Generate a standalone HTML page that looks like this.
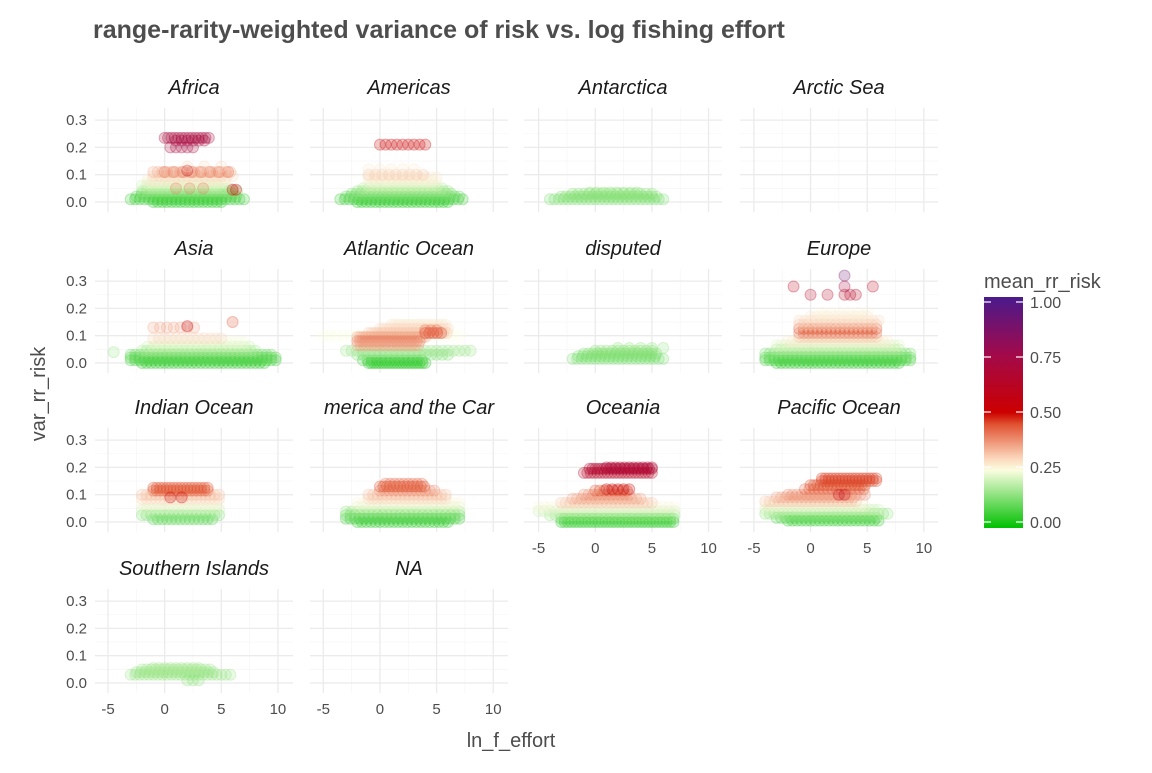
<!DOCTYPE html>
<html><head><meta charset="utf-8"><style>
body{margin:0;background:#fff;font-family:"Liberation Sans",sans-serif}
svg text{font-family:"Liberation Sans",sans-serif}
</style></head><body>
<svg id="c" width="1152" height="768" xmlns="http://www.w3.org/2000/svg">
<defs><linearGradient id="cb" x1="0" y1="1" x2="0" y2="0">
<stop offset="0" stop-color="#00c000"/><stop offset="0.25" stop-color="#fbfde0"/><stop offset="0.3" stop-color="#fcd8bd"/><stop offset="0.45" stop-color="#e0502f"/><stop offset="0.5" stop-color="#cc0000"/><stop offset="0.75" stop-color="#a20a4a"/><stop offset="1" stop-color="#4a1a8c"/></linearGradient></defs>
<text x="93" y="38" font-size="25" font-weight="bold" fill="#4d4d4d">range-rarity-weighted variance of risk vs. log fishing effort</text>
<text x="511" y="747" font-size="20" fill="#4d4d4d" text-anchor="middle">ln_f_effort</text>
<text transform="translate(45,394) rotate(-90)" font-size="20" fill="#4d4d4d" text-anchor="middle">var_rr_risk</text>
<g id="legend">
<text x="984" y="288" font-size="20" fill="#4d4d4d">mean_rr_risk</text>
<rect x="984" y="297" width="39" height="231" fill="url(#cb)"/>
</g>
<g id="panels"></g>
</svg>
<script>
const panelNames=["Africa","Americas","Antarctica","Arctic Sea","Asia","Atlantic Ocean","disputed","Europe","Indian Ocean","merica and the Car","Oceania","Pacific Ocean","Southern Islands","NA"];
const xTicks=[-5,0,5,10];
const yTicks=[0,0.1,0.2,0.3];
const legendTicks=[0,0.25,0.5,0.75,1];
// strips: [var_rr_risk, mean_rr_risk, xStart, xEnd, xStep]
const africa=[[0.0,0.03,-1,5,0.4],[0.01,0.05,-3,7,0.4],[0.02,0.08,-2.5,6.5,0.4],[0.03,0.1,-2,6,0.4],[0.04,0.15,-2,6.5,0.4],[0.05,0.18,-1.5,6,0.4],[0.06,0.2,-2,5,0.4],[0.07,0.24,-1.5,5.5,0.4],[0.08,0.28,-1.5,5.5,0.4],[0.095,0.3,-1,6,0.5],[0.11,0.35,-1,6,0.4],[0.11,0.42,0,6,0.8],[0.115,0.55,2,2,1],[0.05,0.4,1,3.5,1.2],[0.045,0.5,6,6.3,0.3],[0.235,0.7,0,4,0.3],[0.225,0.72,1,3.5,0.5],[0.2,0.72,0.5,2.5,0.5],[0.13,0.3,2,6,1.5]];
const americas=[[0.0,0.03,-2,6,0.4],[0.01,0.05,-3.5,7.5,0.4],[0.02,0.1,-3,7,0.4],[0.03,0.12,-2.5,6.5,0.4],[0.04,0.15,-2,6,0.4],[0.05,0.18,-1.5,5.5,0.5],[0.06,0.22,-1,5,0.5],[0.075,0.26,-1,5,0.5],[0.09,0.28,-1,5,0.5],[0.1,0.32,-1,4,0.6],[0.12,0.28,-1,3,1],[0.21,0.5,0,4,0.5]];
const antarctica=[[0.01,0.12,-4,6,0.4],[0.02,0.13,-3,5.5,0.4],[0.03,0.13,-2,5,0.5],[0.035,0.14,-0.5,4,0.6]];
const arctic=[];
const asia=[[0.0,0.04,-2,9,0.4],[0.01,0.06,-3,10,0.4],[0.02,0.08,-3,10,0.4],[0.03,0.1,-3,9.5,0.4],[0.045,0.16,-2,8,0.4],[0.06,0.2,-1.5,7.5,0.5],[0.075,0.24,-1,7,0.5],[0.09,0.3,-1,5,0.5],[0.13,0.36,-1,3,0.6],[0.135,0.55,2,2,1],[0.15,0.45,6,6,1],[0.04,0.15,-4.5,-4.5,1]];
const atlantic=[[0.0,0.03,-1,4,0.25],[0.01,0.06,-1.5,4,0.4],[0.03,0.12,-2,6,0.5],[0.045,0.15,-3,8,0.5],[0.1,0.25,-5,7,0.6],[0.14,0.28,1,6,0.3],[0.125,0.3,0,6,0.3],[0.11,0.32,-1,6,0.3],[0.095,0.36,-2,4,0.25],[0.08,0.4,-2,3.5,0.25],[0.065,0.36,-2,3.5,0.3],[0.11,0.46,4,5.5,0.35],[0.12,0.42,4,5,0.5]];
const disputed=[[0.015,0.12,-2,6,0.4],[0.025,0.12,-1.5,5.5,0.4],[0.035,0.13,-1,5.5,0.4],[0.045,0.13,0,5,0.5],[0.055,0.14,2,6,1]];
const europe=[[0.0,0.04,-3,8,0.4],[0.01,0.06,-4,9,0.4],[0.02,0.08,-4,9,0.4],[0.035,0.12,-4,9,0.4],[0.05,0.17,-3,8,0.4],[0.065,0.22,-3,8,0.4],[0.08,0.27,-2,7,0.4],[0.095,0.32,-1,6,0.4],[0.11,0.4,-1,6,0.4],[0.125,0.45,-1,6,0.4],[0.14,0.32,-1,6,0.4],[0.155,0.3,-1,6,0.5],[0.17,0.28,0,5,0.5],[0.185,0.26,1,5,0.8],[0.28,0.6,-1.5,5.5,7],[0.25,0.62,0,1.5,1.5],[0.25,0.62,3,4,0.5],[0.32,0.9,3,3,1],[0.28,0.7,3,3,1]];
const indian=[[0.01,0.08,-1,4.5,0.4],[0.025,0.12,-2,5,0.4],[0.045,0.2,-2,5,0.4],[0.065,0.26,-2,5,0.4],[0.085,0.3,-2,5,0.4],[0.1,0.33,-2,5,0.4],[0.115,0.42,-1,4,0.3],[0.125,0.45,-1,4,0.3],[0.09,0.5,0.5,1.5,1]];
const centralAm=[[0.0,0.04,-2,6,0.4],[0.012,0.06,-3,7,0.4],[0.025,0.1,-3,7,0.4],[0.038,0.14,-3,7,0.5],[0.055,0.22,-2,7,0.5],[0.07,0.26,-2,7,0.5],[0.085,0.3,-1,6,0.4],[0.1,0.33,-1,6,0.4],[0.115,0.38,0,5,0.4],[0.13,0.45,0,4,0.3],[0.14,0.42,0.5,4,0.4]];
const oceania=[[0.0,0.04,-3,7,0.3],[0.012,0.08,-3,7,0.3],[0.025,0.15,-4,7,0.5],[0.04,0.2,-5,7,0.5],[0.055,0.26,-5,7,0.5],[0.07,0.32,-3,5,0.4],[0.085,0.36,-2,4,0.4],[0.1,0.38,-1,3,0.4],[0.115,0.45,0,3,0.4],[0.12,0.52,1,3,0.5],[0.18,0.62,-1,5,0.3],[0.195,0.66,-0.5,5,0.25],[0.2,0.68,1,5,0.4]];
const pacific=[[0.005,0.05,-2,6,0.4],[0.015,0.08,-3,6,0.4],[0.03,0.14,-4,7,0.4],[0.045,0.2,-4,6,0.4],[0.06,0.26,-4,5,0.4],[0.075,0.32,-4,4,0.4],[0.09,0.36,-3,4,0.4],[0.1,0.38,-2,5,0.4],[0.12,0.42,-0.5,5,0.4],[0.135,0.45,0,5,0.3],[0.15,0.45,1,6,0.3],[0.16,0.46,1,6,0.3],[0.1,0.55,2.5,3,0.5]];
const southern=[[0.03,0.15,-3,6,0.4],[0.04,0.15,-2.5,4.5,0.4],[0.05,0.16,-2,4,0.4],[0.055,0.17,-1,3,0.5],[0.01,0.14,2,3,0.5]];
const na=[];
const panelData=[africa,americas,antarctica,arctic,asia,atlantic,disputed,europe,indian,centralAm,oceania,pacific,southern,na];

const NS="http://www.w3.org/2000/svg";
const G=document.getElementById('panels');
function mk(t,a,p){const e=document.createElementNS(NS,t);for(const k in a)e.setAttribute(k,a[k]);(p||G).appendChild(e);return e;}
const stops=[[0,[0,192,0]],[0.25,[251,253,224]],[0.3,[252,216,189]],[0.45,[224,80,47]],[0.5,[204,0,0]],[0.75,[162,10,74]],[1,[74,26,140]]];
function col(v){for(let i=1;i<stops.length;i++){if(v<=stops[i][0]){const a=stops[i-1],b=stops[i],t=(v-a[0])/(b[0]-a[0]);return 'rgb('+a[1].map((c,j)=>Math.round(c+(b[1][j]-c)*t)).join(',')+')';}}return 'rgb(74,26,140)';}
const colX0=[95,310,524,740],rowY0=[202,363,522,683],pw=198,xs=11.33,ys=273;
function sx(c,x){return 108+c*215.3+(x+5)*xs;}
function sy(r,y){return rowY0[r]-y*ys;}
panelNames.forEach((nm,i)=>{
 const c=i%4,r=Math.floor(i/4);
 const g=mk('g',{});
 
 
 const top=rowY0[r]-94,bot=rowY0[r]+10;
 [-7.5,-2.5,2.5,7.5].forEach(v=>{const x=sx(c,v);if(x>colX0[c]&&x<colX0[c]+pw)mk('line',{x1:x,x2:x,y1:top,y2:bot,stroke:'#f4f4f4','stroke-width':0.6},g);});
 [0.05,0.15,0.25].forEach(v=>mk('line',{x1:colX0[c],x2:colX0[c]+pw,y1:sy(r,v),y2:sy(r,v),stroke:'#f4f4f4','stroke-width':0.6},g));
 xTicks.forEach(v=>mk('line',{x1:sx(c,v),x2:sx(c,v),y1:top,y2:bot,stroke:'#ebebeb','stroke-width':1.3},g));
 yTicks.forEach(v=>mk('line',{x1:colX0[c],x2:colX0[c]+pw,y1:sy(r,v),y2:sy(r,v),stroke:'#ebebeb','stroke-width':1.3},g));
 const s=mk('text',{x:colX0[c]+pw/2,y:rowY0[r]-108,'font-size':20,'font-style':'italic',fill:'#1a1a1a','text-anchor':'middle'},g);
 s.textContent=nm;
 
 
 panelData[i].forEach(st=>{
  const [yv,rv,x0,x1,stp]=st;
  for(let x=x0;x<=x1+1e-9;x+=stp){
   const cc=col(rv);
   const p=mk('circle',{cx:sx(c,x),cy:sy(r,yv),r:5.5,fill:cc,'fill-opacity':0.22,stroke:cc,'stroke-opacity':0.3},g);
   
   
  }
 });
 if(c===0){yTicks.forEach(v=>{const t=mk('text',{x:colX0[0]-8,y:sy(r,v)+5,'font-size':15,fill:'#4d4d4d','text-anchor':'end'},g);t.textContent=v.toFixed(1);
  
  });}
 const bottom=(r===3)||(r===2&&c>=2);
 if(bottom){xTicks.forEach(v=>{const t=mk('text',{x:sx(c,v),y:rowY0[r]+31,'font-size':15,fill:'#4d4d4d','text-anchor':'middle'},g);t.textContent=v;
  
  });}
});
const L=document.getElementById('legend');
legendTicks.forEach(v=>{const y=522-v*220;
 mk('line',{x1:984,x2:991,y1:y,y2:y,stroke:'#fff','stroke-width':1.2},L);
 mk('line',{x1:1016,x2:1023,y1:y,y2:y,stroke:'#fff','stroke-width':1.2},L);
 const t=mk('text',{x:1030,y:y+6,'font-size':16,fill:'#4d4d4d'},L);t.textContent=v.toFixed(2);
 
 });
</script>
</body></html>
